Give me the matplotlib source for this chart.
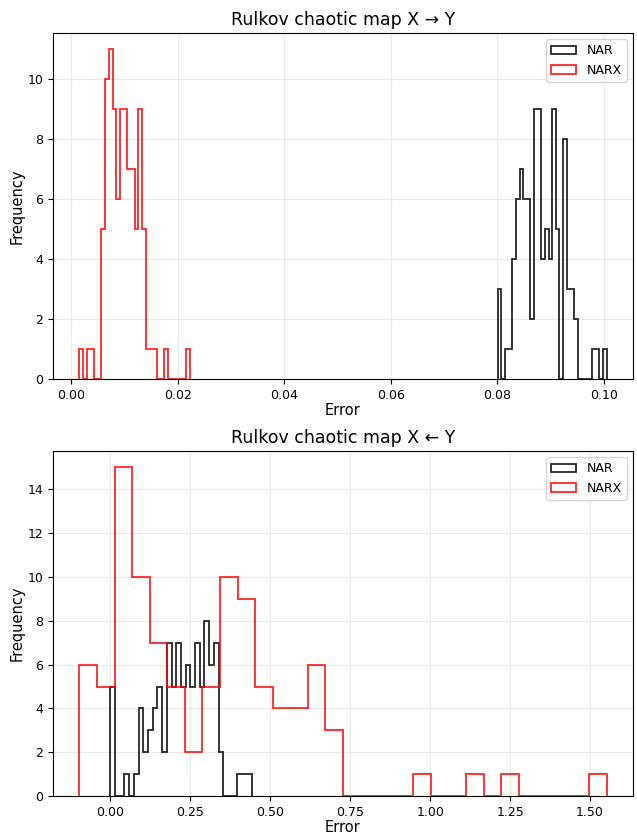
import numpy as np
import matplotlib
matplotlib.use("Agg")
import matplotlib.pyplot as plt

# Error histograms (30 bins each) for the Rulkov map, both coupling directions
N_BINS = 30

# X -> Y
fwd_nar_range = (0.08009, 0.10052)
fwd_nar_counts = [3, 0, 1, 1, 4, 6, 7, 6, 6, 2, 9, 9, 4, 5, 4,
                  9, 5, 0, 8, 3, 3, 2, 0, 0, 0, 0, 1, 1, 0, 1]
fwd_narx_range = (0.00156, 0.02233)
fwd_narx_counts = [1, 0, 1, 1, 0, 0, 5, 10, 11, 9, 6, 9, 9, 7, 7,
                   5, 9, 5, 1, 1, 1, 0, 0, 1, 0, 0, 0, 0, 0, 1]

# X <- Y
bwd_nar_range = (0.0, 0.4416)
bwd_nar_counts = [5, 0, 0, 1, 0, 1, 4, 2, 3, 4, 5, 2, 7, 5, 7,
                  5, 6, 5, 7, 5, 8, 6, 7, 2, 0, 0, 0, 1, 1, 1]
bwd_narx_range = (-0.0969, 1.552)
bwd_narx_counts = [6, 5, 15, 10, 7, 5, 2, 5, 10, 9, 5, 4, 4, 6, 3,
                   0, 0, 0, 0, 1, 0, 0, 1, 0, 1, 0, 0, 0, 0, 1]

fwd_yticks = [0, 2, 4, 6, 8, 10]
bwd_yticks = [0, 2, 4, 6, 8, 10, 12, 14]


def plot_hist(ax, rng, counts, color, label):
    edges = np.linspace(rng[0], rng[1], N_BINS + 1)
    ax.hist(edges[:-1], bins=edges, weights=counts, histtype="step",
            color=color, linewidth=1.3, alpha=0.85, label=label)


def style_axis(ax, title, yticks):
    ax.set_title(title, fontsize=12.5)
    ax.set_xlabel("Error", fontsize=10.5, labelpad=1)
    ax.set_ylabel("Frequency", fontsize=10.5, labelpad=2)
    ax.set_yticks(yticks)
    ax.tick_params(labelsize=9)
    ax.grid(True, color="#dddddd", alpha=0.6, linewidth=0.8)
    ax.set_axisbelow(True)
    ax.legend(loc="upper right", fontsize=9, handlelength=2.0)


fig = plt.figure(figsize=(6.37, 8.36), dpi=100)
ax1 = fig.add_axes([0.0832, 0.5467, 0.9105, 0.4138])
ax2 = fig.add_axes([0.0832, 0.0478, 0.9105, 0.4127])

plot_hist(ax1, fwd_nar_range, fwd_nar_counts, "black", "NAR")
plot_hist(ax1, fwd_narx_range, fwd_narx_counts, "red", "NARX")
style_axis(ax1, "Rulkov chaotic map X \u2192 Y", fwd_yticks)

plot_hist(ax2, bwd_nar_range, bwd_nar_counts, "black", "NAR")
plot_hist(ax2, bwd_narx_range, bwd_narx_counts, "red", "NARX")
style_axis(ax2, "Rulkov chaotic map X \u2190 Y", bwd_yticks)

fig.savefig("out.png", dpi=100)
